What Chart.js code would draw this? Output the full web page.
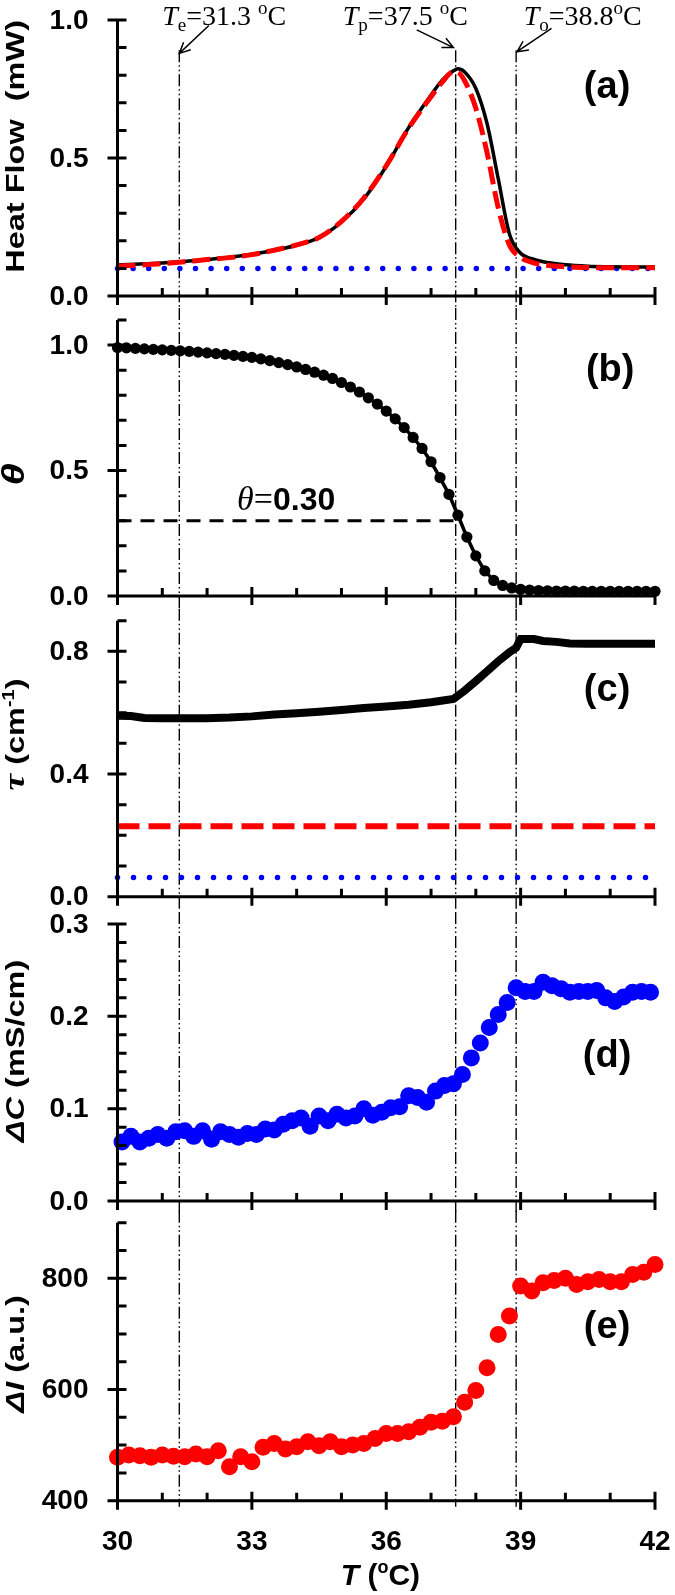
<!DOCTYPE html>
<html lang="en">
<head>
<meta charset="UTF-8">
<meta name="viewport" content="width=device-width, initial-scale=1.0">
<title>Heat flow, theta, tau, conductivity, intensity vs T</title>
<script src="https://cdn.jsdelivr.net/npm/chart.js"></script>
<style>
  body { margin: 0; background: #fff; }
  #page { position: relative; width: 675px; height: 1595px; overflow: hidden; }
  .panel { position: absolute; left: 0; width: 675px; }
</style>
</head>
<body>
<div id="page">
  <div class="panel" style="top:0px;height:326px"><canvas id="chartA"></canvas></div>
  <div class="panel" style="top:290px;height:336px"><canvas id="chartB"></canvas></div>
  <div class="panel" style="top:590px;height:337px"><canvas id="chartC"></canvas></div>
  <div class="panel" style="top:894px;height:337px"><canvas id="chartD"></canvas></div>
  <div class="panel" style="top:1192px;height:403px"><canvas id="chartE"></canvas></div>
</div>
<script>
// ---- temperature axis (shared) ----
var tMin = 30, tMax = 42;
var xMajor = [30, 33, 36, 39, 42];
var xMinor = [31, 32, 34, 35, 37, 38, 40, 41];
var xLabels = ['30', '33', '36', '39', '42'];

// Te / Tp / To marker lines
var markT = [31.38, 37.55, 38.9];
var noteSub = ['e', 'p', 'o'];
var noteVal = ['=31.3 ', '=37.5 ', '=38.8'];
var noteStartT = [31.0, 35.03, 39.07];
var arrowFrom = [[32.04, 0.98], [36.68, 0.964], [39.69, 0.97]];
var arrowTo = [[31.38, 0.879], [37.5, 0.9], [38.92, 0.885]];

// ---- (a) heat flow ----
var heatT   = [30, 30.5, 31, 31.5, 32, 32.5, 33, 33.5, 34, 34.5, 35, 35.5, 36, 36.5, 37, 37.25, 37.5, 37.6, 37.75, 38, 38.25, 38.5, 38.75, 39, 39.25, 39.5, 40, 40.5, 41, 41.5, 42];
var heatExp = [0.112, 0.116, 0.120, 0.125, 0.132, 0.140, 0.151, 0.166, 0.184, 0.212, 0.268, 0.352, 0.470, 0.610, 0.728, 0.782, 0.816, 0.823, 0.812, 0.752, 0.625, 0.425, 0.225, 0.155, 0.135, 0.124, 0.113, 0.108, 0.106, 0.105, 0.105];
var heatFit = [0.108, 0.112, 0.117, 0.124, 0.132, 0.139, 0.150, 0.166, 0.185, 0.212, 0.270, 0.355, 0.472, 0.608, 0.722, 0.775, 0.812, 0.810, 0.780, 0.680, 0.520, 0.320, 0.185, 0.140, 0.122, 0.113, 0.106, 0.103, 0.102, 0.102, 0.102];
var heatBase = 0.1;
var yMajorA = [0, 0.5, 1.0];
var yLabelsA = ['0.0', '0.5', '1.0'];
var yMinorA = [0.1, 0.2, 0.3, 0.4, 0.6, 0.7, 0.8, 0.9];

// ---- (b) theta ----
var thetaT = [30, 30.2, 30.4, 30.6, 30.8, 31, 31.2, 31.4, 31.6, 31.8, 32, 32.2, 32.4, 32.6, 32.8, 33, 33.2, 33.4, 33.6, 33.8, 34, 34.2, 34.4, 34.6, 34.8, 35, 35.2, 35.4, 35.6, 35.8, 36, 36.2, 36.4, 36.6, 36.8, 37, 37.2, 37.4, 37.6, 37.8, 38, 38.2, 38.4, 38.6, 38.8, 39, 39.2, 39.4, 39.6, 39.8, 40, 40.2, 40.4, 40.6, 40.8, 41, 41.2, 41.4, 41.6, 41.8, 42];
var theta = [0.990, 0.989, 0.987, 0.985, 0.983, 0.981, 0.979, 0.977, 0.975, 0.972, 0.969, 0.966, 0.963, 0.959, 0.955, 0.951, 0.945, 0.938, 0.930, 0.922, 0.913, 0.903, 0.892, 0.880, 0.867, 0.851, 0.833, 0.813, 0.790, 0.765, 0.737, 0.706, 0.671, 0.632, 0.588, 0.535, 0.472, 0.405, 0.322, 0.235, 0.160, 0.100, 0.062, 0.042, 0.032, 0.027, 0.024, 0.022, 0.021, 0.020, 0.020, 0.020, 0.019, 0.019, 0.019, 0.019, 0.019, 0.019, 0.019, 0.019, 0.019];
var thetaMark = 0.30, thetaMarkT = 37.55;
var yMajorB = [0, 0.5, 1.0];
var yLabelsB = ['0.0', '0.5', '1.0'];
var yMinorB = [0.1, 0.2, 0.3, 0.4, 0.6, 0.7, 0.8, 0.9, 1.1];

// ---- (c) tau ----
var tauT = [30, 30.3, 30.6, 31, 31.5, 32, 32.5, 33, 33.5, 34, 34.5, 35, 35.5, 36, 36.5, 37, 37.5, 37.75, 38, 38.25, 38.5, 38.75, 38.9, 39.0, 39.3, 39.5, 39.8, 40.1, 40.5, 41, 41.5, 42];
var tau = [0.590, 0.589, 0.583, 0.582, 0.582, 0.582, 0.584, 0.588, 0.594, 0.598, 0.603, 0.609, 0.615, 0.620, 0.626, 0.634, 0.645, 0.672, 0.703, 0.735, 0.768, 0.797, 0.812, 0.840, 0.840, 0.834, 0.831, 0.826, 0.825, 0.825, 0.825, 0.825];
var tauRed = 0.23, tauBlue = 0.063;
var yMajorC = [0, 0.4, 0.8];
var yLabelsC = ['0.0', '0.4', '0.8'];
var yMinorC = [0.1, 0.2, 0.3, 0.5, 0.6, 0.7, 0.9];

// ---- (d) conductivity change ----
var condT = [30.1, 30.3, 30.5, 30.7, 30.9, 31.1, 31.3, 31.5, 31.7, 31.9, 32.1, 32.3, 32.5, 32.7, 32.9, 33.1, 33.3, 33.5, 33.7, 33.9, 34.1, 34.3, 34.5, 34.7, 34.9, 35.1, 35.3, 35.5, 35.7, 35.9, 36.1, 36.3, 36.5, 36.7, 36.9, 37.1, 37.3, 37.5, 37.7, 37.9, 38.1, 38.3, 38.5, 38.7, 38.9, 39.1, 39.3, 39.5, 39.7, 39.9, 40.1, 40.3, 40.5, 40.7, 40.9, 41.1, 41.3, 41.5, 41.7, 41.9];
var cond = [0.064, 0.070, 0.064, 0.068, 0.072, 0.068, 0.075, 0.076, 0.070, 0.076, 0.067, 0.075, 0.072, 0.069, 0.073, 0.072, 0.078, 0.077, 0.083, 0.087, 0.090, 0.081, 0.092, 0.087, 0.094, 0.090, 0.092, 0.100, 0.093, 0.096, 0.101, 0.102, 0.114, 0.112, 0.107, 0.119, 0.125, 0.127, 0.137, 0.155, 0.171, 0.188, 0.202, 0.215, 0.231, 0.227, 0.227, 0.237, 0.233, 0.230, 0.226, 0.227, 0.227, 0.228, 0.220, 0.216, 0.221, 0.226, 0.227, 0.226];
var yMajorD = [0, 0.1, 0.2, 0.3];
var yLabelsD = ['0.0', '0.1', '0.2', '0.3'];
var yMinorD = [0.02, 0.04, 0.06, 0.08, 0.12, 0.14, 0.16, 0.18, 0.22, 0.24, 0.26, 0.28];

// ---- (e) intensity change ----
var intT = [30, 30.25, 30.5, 30.75, 31, 31.25, 31.5, 31.75, 32, 32.25, 32.5, 32.75, 33, 33.25, 33.5, 33.75, 34, 34.25, 34.5, 34.75, 35, 35.25, 35.5, 35.75, 36, 36.25, 36.5, 36.75, 37, 37.25, 37.5, 37.75, 38, 38.25, 38.5, 38.75, 39, 39.25, 39.5, 39.75, 40, 40.25, 40.5, 40.75, 41, 41.25, 41.5, 41.75, 42];
var intens = [478, 482, 481, 478, 482, 480, 479, 484, 479, 490, 461, 479, 470, 496, 503, 493, 497, 506, 499, 506, 497, 500, 503, 512, 521, 521, 524, 532, 541, 543, 551, 577, 598, 639, 699, 732, 786, 777, 792, 796, 800, 789, 794, 798, 794, 794, 807, 811, 825];
var yMajorE = [400, 600, 800];
var yLabelsE = ['400', '600', '800'];
var yMinorE = [450, 500, 550, 650, 700, 750, 850, 900];

Chart.defaults.font.family = '"Liberation Sans", Arial, sans-serif';
Chart.defaults.color = '#000';

var SANS = '"Liberation Sans", Arial, sans-serif';
var SERIF = '"Liberation Serif", "Times New Roman", serif';
var TICKFONT = 'bold 28px ' + SANS;

function pts(xs, ys) {
    return xs.map(function (x, i) { return { x: x, y: ys[i] }; });
}
function flat(v) {
    return [{ x: tMin, y: v }, { x: tMax, y: v }];
}

// draw a run of text pieces with their own fonts / offsets
function drawRich(ctx, x, y, segs, align) {
    var w = 0;
    segs.forEach(function (s) { ctx.font = s.font; s.w = ctx.measureText(s.t).width; w += s.w; });
    var cx = align === 'center' ? x - w / 2 : x;
    ctx.textAlign = 'left';
    ctx.textBaseline = 'alphabetic';
    segs.forEach(function (s) { ctx.font = s.font; ctx.fillText(s.t, cx, y + (s.dy || 0)); cx += s.w; });
}

function arrow(ctx, x1, y1, x2, y2) {
    var ang = Math.atan2(y2 - y1, x2 - x1), L = 12, s = 0.45;
    ctx.beginPath();
    ctx.moveTo(x1, y1);
    ctx.lineTo(x2, y2);
    ctx.moveTo(x2 - L * Math.cos(ang - s), y2 - L * Math.sin(ang - s));
    ctx.lineTo(x2, y2);
    ctx.lineTo(x2 - L * Math.cos(ang + s), y2 - L * Math.sin(ang + s));
    ctx.stroke();
}

function makePanel(id, p) {
    var framePlugin = {
        id: 'frame_' + id,
        beforeDatasetsDraw: function (chart) {
            // Te, Tp, To dash-dot-dot lines
            var ctx = chart.ctx, a = chart.chartArea, xs = chart.scales.x, ys = chart.scales.y;
            var top = p.markTop !== undefined ? ys.getPixelForValue(p.markTop) : a.top - 12;
            var bottom = a.bottom + p.markBelow;
            ctx.save();
            ctx.strokeStyle = '#000';
            ctx.lineWidth = 1.4;
            ctx.setLineDash([12, 3, 1.5, 3, 1.5, 3]);
            markT.forEach(function (t) {
                var x = xs.getPixelForValue(t);
                ctx.beginPath();
                ctx.moveTo(x, top);
                ctx.lineTo(x, bottom);
                ctx.stroke();
            });
            ctx.restore();
        },
        afterDraw: function (chart) {
            var ctx = chart.ctx, a = chart.chartArea, xs = chart.scales.x, ys = chart.scales.y;
            ctx.save();
            ctx.strokeStyle = '#000';
            ctx.lineWidth = 3;
            ctx.beginPath();
            // axis lines
            ctx.moveTo(a.left, ys.getPixelForValue(p.yMax));
            ctx.lineTo(a.left, a.bottom + 1.5);
            ctx.moveTo(a.left - 1.5, a.bottom);
            ctx.lineTo(a.right, a.bottom);
            // y ticks
            p.yMajor.forEach(function (v) {
                var y = ys.getPixelForValue(v);
                ctx.moveTo(a.left - 10, y); ctx.lineTo(a.left + 9, y);
            });
            p.yMinor.forEach(function (v) {
                var y = ys.getPixelForValue(v);
                ctx.moveTo(a.left, y); ctx.lineTo(a.left + 9, y);
            });
            // x ticks
            xMajor.forEach(function (v) {
                var x = xs.getPixelForValue(v);
                ctx.moveTo(x, a.bottom - 9); ctx.lineTo(x, a.bottom + 9);
            });
            xMinor.forEach(function (v) {
                var x = xs.getPixelForValue(v);
                ctx.moveTo(x, a.bottom - 8); ctx.lineTo(x, a.bottom);
            });
            ctx.stroke();

            // tick labels
            ctx.fillStyle = '#000';
            ctx.font = TICKFONT;
            ctx.textAlign = 'right';
            ctx.textBaseline = 'middle';
            p.yMajor.forEach(function (v, i) {
                ctx.fillText(p.yLabels[i], a.left - 29, ys.getPixelForValue(v) + 1);
            });
            if (p.xLabels) {
                ctx.textAlign = 'center';
                xMajor.forEach(function (v, i) {
                    ctx.fillText(xLabels[i], xs.getPixelForValue(v), a.bottom + 42);
                });
            }

            // y title, rotated and stretched along its length
            ctx.save();
            ctx.translate(24, ys.getPixelForValue(p.titleAt));
            ctx.rotate(-Math.PI / 2);
            ctx.scale(1.25, 1);
            drawRich(ctx, 0, 0, p.title, 'center');
            ctx.restore();

            // panel tag
            ctx.font = 'bold 38px ' + SANS;
            ctx.textAlign = 'center';
            ctx.textBaseline = 'middle';
            ctx.fillText(p.tag, xs.getPixelForValue(p.tagAt[0]), ys.getPixelForValue(p.tagAt[1]));

            if (p.extra) p.extra(chart, ctx, xs, ys);
            ctx.restore();
        }
    };

    return new Chart(document.getElementById(id), {
        type: 'scatter',
        data: { datasets: p.datasets },
        options: {
            responsive: true,
            maintainAspectRatio: false,
            animation: false,
            events: [],
            layout: { padding: { top: p.padTop, bottom: p.padBottom, left: 0, right: 20 } },
            plugins: { legend: { display: false }, tooltip: { enabled: false } },
            scales: {
                x: {
                    type: 'linear',
                    min: tMin,
                    max: tMax,
                    grid: { display: false, drawTicks: false },
                    border: { display: false },
                    ticks: { display: false },
                    afterFit: function (s) { s.height = p.xHeight; }
                },
                y: {
                    type: 'linear',
                    min: p.yMin,
                    max: p.yMax,
                    grid: { display: false, drawTicks: false },
                    border: { display: false },
                    ticks: { display: false },
                    afterFit: function (s) { s.width = 117.5; }
                }
            }
        },
        plugins: [framePlugin]
    });
}

var bold26 = 'bold 26px ' + SANS;

// (a)
makePanel('chartA', {
    padTop: 20, padBottom: 30, xHeight: 0, markTop: 0.89, markBelow: 12,
    yMin: 0, yMax: 1.0, yMajor: yMajorA, yLabels: yLabelsA, yMinor: yMinorA,
    title: [{ t: 'Heat Flow  (mW)', font: bold26 }], titleAt: 0.542,
    tag: '(a)', tagAt: [40.93, 0.754],
    datasets: [
        { data: pts(heatT, heatFit), showLine: true, borderColor: '#ff0000', borderWidth: 5, borderDash: [18, 7],
          pointRadius: 0, cubicInterpolationMode: 'monotone', order: 1, clip: false },
        { data: pts(heatT, heatExp), showLine: true, borderColor: '#000000', borderWidth: 3.5,
          pointRadius: 0, cubicInterpolationMode: 'monotone', order: 2, clip: false },
        { data: flat(heatBase), showLine: true, borderColor: '#0000ff', borderWidth: 5.5, borderDash: [0, 15.6],
          borderCapStyle: 'round', pointRadius: 0, order: 3, clip: false }
    ],
    extra: function (chart, ctx, xs, ys) {
        ctx.fillStyle = '#000';
        for (var i = 0; i < 3; i++) {
            drawRich(ctx, xs.getPixelForValue(noteStartT[i]), ys.getPixelForValue(0.982), [
                { t: 'T', font: 'italic 28px ' + SERIF },
                { t: noteSub[i], font: '19px ' + SERIF, dy: 6 },
                { t: noteVal[i], font: '28px ' + SERIF },
                { t: 'o', font: '19px ' + SERIF, dy: -11 },
                { t: 'C', font: '28px ' + SERIF }
            ], 'left');
        }
        ctx.strokeStyle = '#000';
        ctx.lineWidth = 1.5;
        for (var j = 0; j < 3; j++) {
            arrow(ctx, xs.getPixelForValue(arrowFrom[j][0]), ys.getPixelForValue(arrowFrom[j][1]),
                  xs.getPixelForValue(arrowTo[j][0]), ys.getPixelForValue(arrowTo[j][1]));
        }
    }
});

// (b)
makePanel('chartB', {
    padTop: 30, padBottom: 30, xHeight: 0, markBelow: 12,
    yMin: 0, yMax: 1.1, yMajor: yMajorB, yLabels: yLabelsB, yMinor: yMinorB,
    title: [{ t: 'θ', font: 'bold italic 32px ' + SANS }], titleAt: 0.485,
    tag: '(b)', tagAt: [41.0, 0.90],
    datasets: [
        { data: pts(thetaT, theta), showLine: true, borderColor: '#000000', borderWidth: 3.5,
          pointRadius: 5.6, pointBackgroundColor: '#000000', pointBorderWidth: 0, order: 1, clip: false },
        { data: [{ x: tMin, y: thetaMark }, { x: thetaMarkT, y: thetaMark }], showLine: true, borderColor: '#000000',
          borderWidth: 3, borderDash: [14, 9], pointRadius: 0, order: 2 }
    ],
    extra: function (chart, ctx, xs, ys) {
        ctx.fillStyle = '#000';
        drawRich(ctx, xs.getPixelForValue(32.67), ys.getPixelForValue(0.341), [
            { t: 'θ', font: 'italic 34px ' + SERIF },
            { t: '=', font: '34px ' + SERIF },
            { t: '0.30', font: 'bold 32px ' + SANS }
        ], 'left');
    }
});

// (c)
makePanel('chartC', {
    padTop: 30.7, padBottom: 30.3, xHeight: 0, markBelow: 14,
    yMin: 0, yMax: 0.9, yMajor: yMajorC, yLabels: yLabelsC, yMinor: yMinorC,
    title: [
        { t: 'τ', font: 'bold italic 30px ' + SERIF },
        { t: ' (cm', font: bold26 },
        { t: '-1', font: 'bold 16px ' + SANS, dy: -10 },
        { t: ')', font: bold26 }
    ], titleAt: 0.529,
    tag: '(c)', tagAt: [40.93, 0.672],
    datasets: [
        { data: pts(tauT, tau), showLine: true, borderColor: '#000000', borderWidth: 8,
          pointRadius: 0, order: 1, clip: false },
        { data: flat(tauRed), showLine: true, borderColor: '#ff0000', borderWidth: 6, borderDash: [22, 9],
          pointRadius: 0, order: 2, clip: false },
        { data: flat(tauBlue), showLine: true, borderColor: '#0000ff', borderWidth: 5.5, borderDash: [0, 16],
          borderCapStyle: 'round', pointRadius: 0, order: 3, clip: false }
    ]
});

// (d)
makePanel('chartD', {
    padTop: 30, padBottom: 30, xHeight: 0, markBelow: 11,
    yMin: 0, yMax: 0.3, yMajor: yMajorD, yLabels: yLabelsD, yMinor: yMinorD,
    title: [
        { t: 'ΔC', font: 'bold italic 26px ' + SANS },
        { t: ' (mS/cm)', font: bold26 }
    ], titleAt: 0.1625,
    tag: '(d)', tagAt: [40.93, 0.156],
    datasets: [
        { data: pts(condT, cond), pointRadius: 8.5, pointBackgroundColor: '#0000ff', pointBorderWidth: 0, clip: false }
    ]
});

// (e)
makePanel('chartE', {
    padTop: 30.7, padBottom: 0, xHeight: 94.3, markBelow: 6, xLabels: true,
    yMin: 400, yMax: 900, yMajor: yMajorE, yLabels: yLabelsE, yMinor: yMinorE,
    title: [
        { t: 'ΔI', font: 'bold italic 26px ' + SANS },
        { t: ' (a.u.)', font: bold26 }
    ], titleAt: 664,
    tag: '(e)', tagAt: [40.93, 711],
    datasets: [
        { data: pts(intT, intens), pointRadius: 8.5, pointBackgroundColor: '#ff0000', pointBorderWidth: 0, clip: false }
    ],
    extra: function (chart, ctx, xs, ys) {
        ctx.fillStyle = '#000';
        drawRich(ctx, xs.getPixelForValue(35.87), chart.chartArea.bottom + 84, [
            { t: 'T', font: 'bold italic 30px ' + SANS },
            { t: ' (', font: 'bold 30px ' + SANS },
            { t: 'o', font: 'bold 18px ' + SANS, dy: -12 },
            { t: 'C)', font: 'bold 30px ' + SANS }
        ], 'center');
    }
});
</script>
</body>
</html>
